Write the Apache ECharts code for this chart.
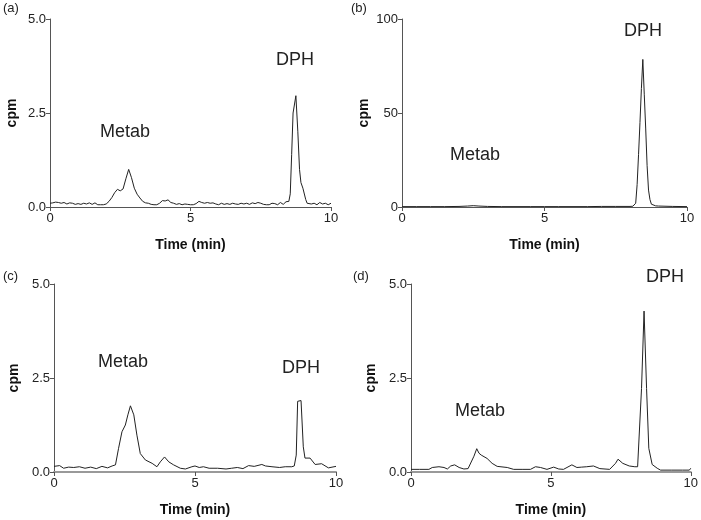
<!DOCTYPE html>
<html>
<head>
<meta charset="utf-8">
<script src="https://cdn.jsdelivr.net/npm/echarts@6/dist/echarts.min.js"></script>
<style>html,body{margin:0;padding:0;background:#fff}#c{width:701px;height:520px}</style>
</head>
<body>
<div id="c"></div>
<script>
// ---- data (time in min, activity in cpm) ----
const tA = [0,0.1,0.2,0.3,0.4,0.5,0.6,0.7,0.8,0.9,1.0,1.1,1.2,1.3,1.4,1.5,1.6,1.7,1.8,1.9,2.0,2.1,2.2,2.3,2.4,2.5,2.6,2.7,2.8,2.85,2.9,3.0,3.1,3.2,3.3,3.4,3.5,3.6,3.7,3.8,3.9,4.0,4.1,4.2,4.3,4.4,4.5,4.6,4.7,4.8,4.9,5.0,5.1,5.2,5.3,5.4,5.5,5.6,5.7,5.8,5.9,6.0,6.1,6.2,6.3,6.4,6.5,6.6,6.7,6.8,6.9,7.0,7.1,7.2,7.3,7.4,7.5,7.6,7.7,7.8,7.9,8.0,8.1,8.2,8.3,8.4,8.5,8.55,8.6,8.65,8.75,8.82,8.88,8.93,9.0,9.1,9.15,9.2,9.3,9.4,9.5,9.6,9.7,9.8,9.9,10];
const vA = [0.10,0.11,0.13,0.12,0.10,0.12,0.08,0.11,0.10,0.07,0.09,0.07,0.10,0.08,0.11,0.07,0.11,0.06,0.06,0.06,0.08,0.15,0.25,0.38,0.47,0.43,0.48,0.75,1.0,0.98,0.78,0.50,0.34,0.24,0.15,0.11,0.10,0.07,0.06,0.06,0.10,0.17,0.16,0.19,0.12,0.10,0.07,0.09,0.06,0.08,0.07,0.06,0.06,0.09,0.15,0.12,0.10,0.12,0.10,0.11,0.08,0.06,0.10,0.07,0.09,0.07,0.10,0.08,0.07,0.10,0.08,0.10,0.07,0.11,0.09,0.12,0.10,0.07,0.06,0.06,0.10,0.09,0.06,0.12,0.07,0.14,0.15,0.35,1.4,2.5,2.96,2.0,1.0,0.65,0.5,0.2,0.1,0.10,0.08,0.10,0.06,0.12,0.08,0.10,0.06,0.10];

const tB = [0,0.5,1,1.5,2,2.3,2.5,2.7,3,3.5,4,4.5,5,5.5,6,6.5,7,7.5,8.0,8.1,8.15,8.2,8.25,8.3,8.35,8.4,8.45,8.5,8.55,8.6,8.65,8.7,8.75,8.8,8.9,9.0,9.5,10];
const vB = [0.2,0.2,0.2,0.2,0.3,0.5,0.7,0.5,0.3,0.2,0.2,0.2,0.2,0.2,0.2,0.2,0.3,0.3,0.3,0.4,0.5,2,12,28,45,63,78.5,60,42,22,9,4,1.5,0.8,0.6,0.5,0.3,0.2];

const tC = [0,0.05,0.2,0.34,0.52,0.7,0.9,1.1,1.3,1.5,1.7,1.9,2.06,2.18,2.29,2.41,2.53,2.62,2.71,2.83,2.94,3.06,3.24,3.48,3.65,3.77,3.92,4.07,4.24,4.48,4.66,4.89,5.0,5.15,5.3,5.5,5.8,6.1,6.3,6.5,6.7,6.9,7.1,7.37,7.5,7.73,8.0,8.2,8.43,8.52,8.59,8.64,8.76,8.84,8.9,9.08,9.26,9.49,9.73,10];
const vC = [0.15,0.19,0.17,0.10,0.13,0.12,0.14,0.10,0.13,0.09,0.15,0.11,0.16,0.19,0.63,1.07,1.25,1.52,1.76,1.52,0.98,0.49,0.32,0.23,0.14,0.27,0.40,0.27,0.19,0.10,0.08,0.14,0.16,0.12,0.14,0.10,0.10,0.08,0.10,0.12,0.09,0.17,0.15,0.20,0.16,0.14,0.12,0.14,0.14,0.16,0.45,1.88,1.90,0.67,0.37,0.37,0.20,0.22,0.11,0.15];

const tD = [0,0.3,0.64,0.76,1.0,1.18,1.3,1.42,1.56,1.72,1.89,2.04,2.25,2.35,2.43,2.51,2.58,2.72,2.9,3.08,3.44,3.67,4.0,4.27,4.45,4.63,4.86,5.1,5.28,5.45,5.75,5.93,6.1,6.28,6.52,6.75,7.1,7.31,7.4,7.57,7.8,8.0,8.1,8.15,8.24,8.33,8.42,8.5,8.62,8.8,8.92,9.3,9.7,9.95,10];
const vD = [0.07,0.07,0.07,0.12,0.14,0.12,0.08,0.16,0.19,0.12,0.08,0.09,0.42,0.62,0.50,0.45,0.50,0.36,0.23,0.15,0.12,0.07,0.07,0.07,0.14,0.12,0.07,0.13,0.08,0.07,0.19,0.12,0.13,0.14,0.16,0.09,0.07,0.23,0.34,0.23,0.16,0.14,0.14,0.19,2.22,4.28,2.22,0.63,0.2,0.1,0.05,0.05,0.05,0.05,0.1];

const panelLabels = ['(a)','(b)','(c)','(d)'];
const yMax = [5, 100, 5, 5];
const yInterval = [2.5, 50, 2.5, 2.5];
const xTitle = 'Time (min)';
const yTitle = 'cpm';
const peakNames = ['Metab','DPH'];

// ---- layout ----
const grids = [
  {left:50, top:19, width:281, height:188},
  {left:402, top:19, width:285, height:188},
  {left:54, top:284, width:282, height:188},
  {left:411, top:284, width:281, height:188}
];
const series = [[tA,vA],[tB,vB],[tC,vC],[tD,vD]];
const axisLineStyles = [
  {color:'#555', width:1},
  {color:'#555', width:1},
  {color:'#999', width:2},
  {color:'#999', width:2}
];
const yNameGaps = [31, 31, 33, 33];
const labelFont = {fontFamily:'Liberation Sans, Arial, sans-serif', fontSize:13, color:'#222'};

const option = {
  animation:false,
  backgroundColor:'#fff',
  grid: grids.map(g => Object.assign({containLabel:false}, g)),
  xAxis: grids.map((g,i) => ({
    gridIndex:i, type:'value', min:0, max:10, interval:5,
    name:xTitle, nameLocation:'middle', nameGap:31,
    nameTextStyle:{fontFamily:'Liberation Sans, Arial, sans-serif', fontSize:14, fontWeight:'bold', color:'#111'},
    axisLine:{show:true, onZero:false, lineStyle:axisLineStyles[i]},
    axisTick:{show:true, length:4, lineStyle:{color:'#555', width:1}},
    axisLabel:Object.assign({margin:5}, labelFont),
    splitLine:{show:false}
  })),
  yAxis: grids.map((g,i) => ({
    gridIndex:i, type:'value', min:0, max:yMax[i], interval:yInterval[i],
    name:yTitle, nameLocation:'middle', nameGap:yNameGaps[i], nameRotate:90,
    nameTextStyle:{fontFamily:'Liberation Sans, Arial, sans-serif', fontSize:14, fontWeight:'bold', color:'#111'},
    axisLine:{show:true, lineStyle:{color:'#555', width:1}},
    axisTick:{show:true, length:4, lineStyle:{color:'#555', width:1}},
    axisLabel:Object.assign({margin:4, formatter: v => yMax[i] === 100 ? String(v) : v.toFixed(1)}, labelFont),
    splitLine:{show:false}
  })),
  series: series.map((s,i) => ({
    type:'line', xAxisIndex:i, yAxisIndex:i,
    data: s[0].map((t,k) => [t, s[1][k]]),
    showSymbol:false, symbol:'none', smooth:false,
    lineStyle:{color:'#222', width:1}
  })),
  graphic: [
    {type:'text', left:3, top:2, style:{text:panelLabels[0], font:'13px Liberation Sans, Arial', fill:'#222'}},
    {type:'text', left:351, top:2, style:{text:panelLabels[1], font:'13px Liberation Sans, Arial', fill:'#222'}},
    {type:'text', left:3, top:270, style:{text:panelLabels[2], font:'13px Liberation Sans, Arial', fill:'#222'}},
    {type:'text', left:353, top:270, style:{text:panelLabels[3], font:'13px Liberation Sans, Arial', fill:'#222'}},
    {type:'text', x:125, y:132, style:{text:peakNames[0], font:'18px Liberation Sans, Arial', fill:'#222', align:'center', verticalAlign:'middle'}},
    {type:'text', x:295, y:60, style:{text:peakNames[1], font:'18px Liberation Sans, Arial', fill:'#222', align:'center', verticalAlign:'middle'}},
    {type:'text', x:475, y:155, style:{text:peakNames[0], font:'18px Liberation Sans, Arial', fill:'#222', align:'center', verticalAlign:'middle'}},
    {type:'text', x:643, y:31, style:{text:peakNames[1], font:'18px Liberation Sans, Arial', fill:'#222', align:'center', verticalAlign:'middle'}},
    {type:'text', x:123, y:362, style:{text:peakNames[0], font:'18px Liberation Sans, Arial', fill:'#222', align:'center', verticalAlign:'middle'}},
    {type:'text', x:301, y:368, style:{text:peakNames[1], font:'18px Liberation Sans, Arial', fill:'#222', align:'center', verticalAlign:'middle'}},
    {type:'text', x:480, y:411, style:{text:peakNames[0], font:'18px Liberation Sans, Arial', fill:'#222', align:'center', verticalAlign:'middle'}},
    {type:'text', x:665, y:277, style:{text:peakNames[1], font:'18px Liberation Sans, Arial', fill:'#222', align:'center', verticalAlign:'middle'}}
  ]
};
echarts.init(document.getElementById('c'), null, {renderer:'canvas'}).setOption(option);
</script>
</body>
</html>
